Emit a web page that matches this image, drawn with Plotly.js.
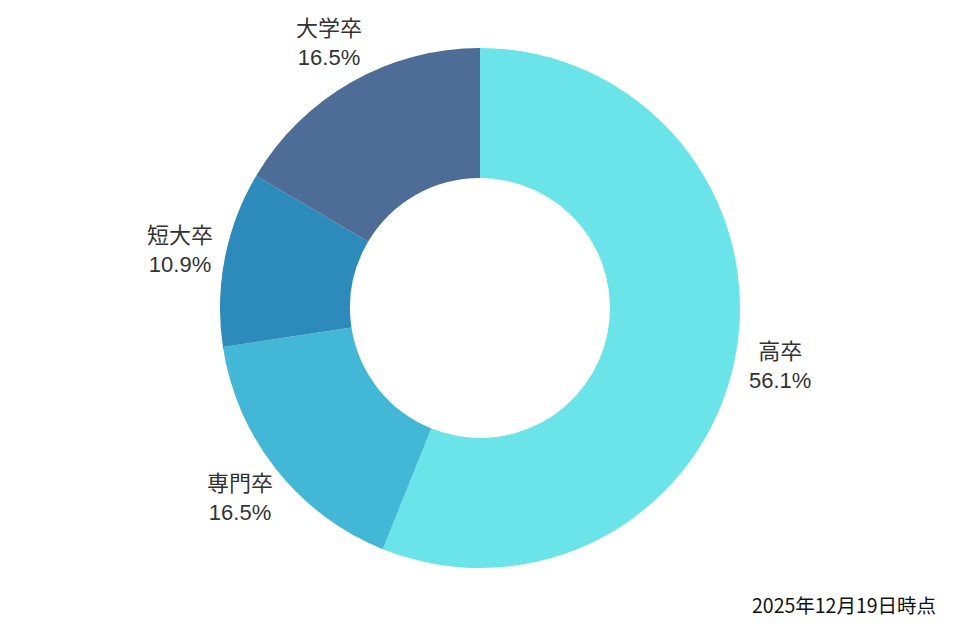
<!DOCTYPE html>
<html>
<head>
<meta charset="utf-8">
<script src="https://cdn.plot.ly/plotly-3.0.1.min.js"></script>
<style>html,body{margin:0;padding:0;background:#fff;}#chart{width:960px;height:640px;}</style>
</head>
<body>
<div id="chart"></div>
<script>
const labels = ["高卒", "専門卒", "短大卒", "大学卒"];
const values = [56.1, 16.5, 10.9, 16.5];
const colors = ["#6ae4e8", "#42b8d6", "#2d8bbb", "#4d6d97"];
const note = "2025年12月19日時点";

const W = 960, H = 640, M = {l: 0, r: 0, t: 48, b: 72};
const plotW = W - M.l - M.r, plotH = H - M.t - M.b;
const radiusPx = Math.min(plotW, plotH) / 2;
const labelR = radiusPx * 1.175;
const total = values.reduce((a, b) => a + b, 0);
const labelFont = {size: 22, color: "#333333", family: "Liberation Sans, Noto Sans CJK JP, sans-serif"};

let cum = 0;
const labelAnns = labels.map((lab, i) => {
  const mid = (cum + values[i] / 2) / total;
  cum += values[i];
  const ang = mid * 2 * Math.PI;
  const dx = Math.sin(ang) * labelR, dy = Math.cos(ang) * labelR;
  return {
    text: lab + "<br>" + (values[i] / total * 100).toFixed(1) + "%",
    showarrow: false, xref: "paper", yref: "paper",
    x: 0.5 + dx / plotW, y: 0.5 + dy / plotH,
    xanchor: "center", yanchor: "middle",
    font: labelFont
  };
});

Plotly.newPlot("chart", [{
  type: "pie",
  labels: labels,
  values: values,
  hole: 0.5,
  sort: false,
  direction: "clockwise",
  rotation: 0,
  marker: {colors: colors, line: {width: 0}},
  textinfo: "none",
  showlegend: false,
  hoverinfo: "none"
}], {
  width: W, height: H,
  margin: M,
  paper_bgcolor: "#ffffff",
  annotations: labelAnns.concat([{
    text: note, showarrow: false, xref: "paper", yref: "paper",
    x: 0.977, y: -0.071, xanchor: "right", yanchor: "middle",
    font: {size: 19.5, color: "#111111", family: "Noto Sans CJK JP, sans-serif"}
  }])
}, {displayModeBar: false, staticPlot: true});
</script>
</body>
</html>
